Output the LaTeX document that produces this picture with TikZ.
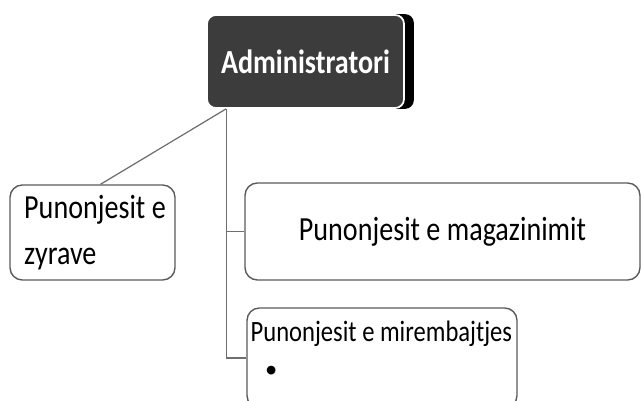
\documentclass[tikz,border=0pt]{standalone}
\usepackage{fontspec}
\setmainfont{Carlito}
\usetikzlibrary{calc,backgrounds}
\definecolor{headfill}{HTML}{3C3C3C}
\definecolor{boxgray}{HTML}{5A5A5A}
\definecolor{linegray}{HTML}{6E6E6E}
\newcommand{\tallt}[1]{\scalebox{1}[1.2]{#1}}

\begin{document}
\begin{tikzpicture}[x=0.02cm,y=-0.02cm]
% Chart style
\tikzset{
    headbox/.style={fill=headfill, draw=white, line width=1pt, rounded corners=5pt,
        text=white, font=\fontsize{16}{19}\selectfont\bfseries},
    staffbox/.style={draw=boxgray, line width=0.8pt, rounded corners=7pt, fill=white},
    conn/.style={draw=linegray, line width=0.7pt}
}
\clip (0,0) rectangle (641,401);

% Boxes
\node[headbox, minimum width=3.94cm, minimum height=1.86cm] (admin) at (305.5,61.5) {\tallt{Administratori}};
\node[staffbox, minimum width=3.3cm, minimum height=1.9cm, align=left,
      font=\fontsize{16}{26}\selectfont] (zyra) at (92.5,232.5)
      {\hspace*{0.1cm}\tallt{Punonjesit e}\\\hspace*{0.1cm}\tallt{zyrave}};
\node[staffbox, minimum width=7.9cm, minimum height=1.94cm,
      font=\fontsize{16}{19}\selectfont] (mag) at (442.5,231.5) {\tallt{Punonjesit e magazinimit}};
\node[staffbox, minimum width=5.4cm, minimum height=2cm] (mir) at (382,358) {};
\node[anchor=north west, font=\fontsize{14}{17}\selectfont, inner sep=0pt]
      (mirtext) at ($(mir.north west)+(4,13)$) {\tallt{Punonjesit e mirembajtjes}};
\node[font=\fontsize{14}{17}\selectfont, inner sep=0pt] (bullet) at ($(mir.north west)+(25,65)$) {\textbullet};

% Shadow
\begin{scope}[on background layer]
\fill[black, rounded corners=5pt] ($(admin.north west)+(10,0)$) rectangle ($(admin.south east)+(9,0)$);
\end{scope}

% Connection
\coordinate (hub) at ($(admin.south west)+(20,0)$);
\draw[conn] (hub) -- ($(zyra.north)+(8,0)$);
\draw[conn] (hub) |- (mir.west);
\draw[conn] (hub |- mag.west) -- (mag.west);
\end{tikzpicture}
\end{document}
